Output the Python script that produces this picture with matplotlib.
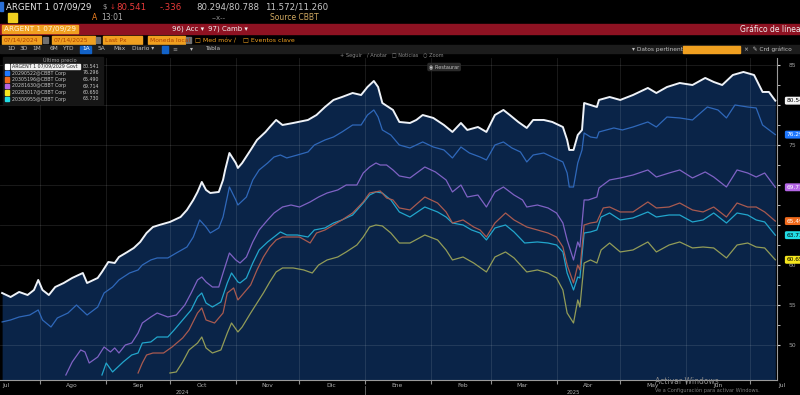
import matplotlib
matplotlib.use('Agg')
import matplotlib.pyplot as plt
from matplotlib.patches import Rectangle
import pandas as pd

W, H = 800, 395
inicio = pd.Timestamp('2024-07-13')

# ARGENT 1 07/09/29 Govt
dias_argent = [1, 5, 9, 13, 16, 18, 20, 23, 26, 30, 34, 39, 41, 46, 48, 51, 54, 56, 60, 63, 66, 69, 72, 75,
               80, 85, 88, 91, 93, 95, 97, 99, 103, 105, 106, 108, 111, 112, 114, 118, 121, 125, 127, 130,
               133, 138, 145, 149, 153, 157, 161, 166, 170, 173, 176, 178, 180, 185, 188, 193, 196, 199,
               204, 209, 213, 217, 220, 225, 229, 233, 237, 240, 244, 248, 251, 256, 260, 265, 267, 268,
               270, 272, 274, 275, 278, 281, 282, 287, 292, 298, 305, 309, 314, 320, 326, 332, 336, 340,
               345, 350, 355, 359, 362, 365]
precio_argent = [56.5, 56.0, 56.63, 56.25, 56.88, 58.13, 56.88, 56.25, 57.25, 57.75, 58.38, 59.0, 57.75, 58.38,
                 59.13, 60.38, 60.25, 61.0, 61.63, 62.13, 62.88, 64.0, 64.75, 65.0, 65.38, 66.0, 66.88, 68.13,
                 69.13, 70.38, 69.38, 69.0, 69.13, 70.63, 71.88, 74.0, 72.75, 72.13, 72.75, 74.38, 75.63,
                 76.63, 77.25, 78.13, 77.5, 77.75, 78.13, 78.75, 79.75, 80.63, 81.0, 81.5, 81.25, 82.25, 83.0,
                 82.25, 80.25, 79.38, 77.88, 77.75, 78.13, 78.75, 78.38, 77.5, 76.63, 77.75, 76.88, 77.25,
                 76.63, 78.75, 79.38, 78.75, 77.88, 77.13, 78.13, 78.13, 77.88, 77.25, 75.63, 74.38, 74.38,
                 76.25, 76.88, 80.25, 80.0, 79.75, 80.63, 81.0, 80.63, 81.25, 82.13, 81.5, 82.25, 82.75, 82.5,
                 83.38, 82.88, 82.5, 83.75, 84.13, 83.75, 81.63, 81.63, 80.541]

# 20290522@CBBT Corp
dias_azul = [1, 5, 9, 14, 18, 20, 24, 27, 32, 36, 41, 46, 49, 53, 56, 61, 65, 67, 71, 74, 79, 83, 88, 91, 94,
             97, 99, 103, 105, 108, 111, 112, 116, 119, 122, 126, 129, 132, 135, 140, 145, 148, 153, 157, 161,
             166, 170, 173, 176, 178, 180, 184, 188, 193, 199, 204, 209, 213, 217, 221, 226, 229, 233, 237,
             241, 245, 248, 251, 256, 260, 265, 267, 268, 270, 272, 274, 275, 278, 281, 282, 289, 293, 298,
             305, 309, 314, 320, 326, 333, 338, 342, 346, 352, 356, 359, 365]
precio_azul = [52.88, 53.13, 53.5, 53.75, 54.38, 53.13, 52.25, 53.38, 54.0, 55.0, 53.75, 54.75, 56.5, 57.25,
               58.13, 59.0, 59.38, 60.0, 60.63, 60.88, 60.88, 61.5, 62.25, 63.5, 65.63, 64.75, 64.0, 64.63,
               66.0, 69.75, 68.13, 67.5, 68.5, 70.63, 71.88, 72.75, 73.5, 73.75, 73.38, 73.75, 74.13, 75.0,
               75.63, 76.0, 76.63, 77.5, 77.5, 78.75, 79.38, 78.5, 76.88, 76.25, 75.0, 74.63, 75.38, 74.75,
               74.38, 73.38, 74.75, 74.0, 73.5, 73.13, 75.0, 75.38, 74.63, 74.13, 72.88, 73.75, 74.0, 73.5,
               72.88, 71.5, 69.75, 69.75, 72.75, 74.38, 76.5, 76.0, 75.88, 76.63, 77.13, 76.88, 77.25, 77.88,
               77.25, 78.5, 78.38, 78.13, 79.75, 79.38, 78.38, 80.0, 79.75, 79.63, 77.5, 76.296]

# 20305196@CBBT Corp
dias_naranja = [65, 67, 69, 72, 77, 81, 86, 89, 93, 95, 97, 101, 105, 107, 110, 112, 114, 118, 121, 124, 127,
                130, 133, 137, 141, 146, 149, 153, 157, 161, 166, 171, 174, 179, 182, 185, 188, 193, 200, 206,
                210, 213, 218, 223, 226, 229, 233, 238, 242, 248, 253, 258, 262, 265, 267, 270, 272, 273, 275,
                278, 281, 284, 287, 292, 298, 305, 309, 315, 320, 326, 331, 336, 342, 347, 352, 356, 360, 365]
precio_naranja = [46.5, 47.75, 48.75, 49.0, 49.0, 49.75, 50.88, 51.88, 54.0, 54.63, 53.13, 52.75, 54.0, 56.5,
                  57.13, 55.63, 56.25, 57.5, 59.38, 61.0, 62.25, 63.13, 63.5, 63.5, 63.5, 62.75, 64.0, 64.38,
                  65.0, 65.63, 66.5, 67.88, 69.0, 69.25, 68.38, 68.13, 67.13, 66.88, 68.5, 67.75, 66.63, 65.25,
                  65.63, 64.75, 64.38, 63.5, 65.25, 66.5, 65.63, 64.75, 64.38, 64.0, 63.5, 62.25, 60.0, 57.75,
                  60.0, 59.38, 65.0, 65.25, 65.38, 67.13, 67.25, 66.63, 66.63, 67.88, 67.13, 67.25, 67.75,
                  66.88, 66.63, 67.25, 66.0, 67.75, 67.25, 67.25, 66.63, 65.49]

# 20281630@CBBT Corp
dias_violeta = [31, 34, 38, 40, 42, 46, 49, 52, 54, 56, 59, 62, 65, 67, 71, 74, 79, 83, 87, 90, 93, 95, 97,
                100, 103, 105, 108, 111, 113, 116, 119, 122, 126, 129, 133, 137, 141, 146, 150, 154, 159, 163,
                168, 171, 174, 177, 179, 182, 185, 188, 193, 200, 205, 210, 213, 217, 220, 225, 229, 233, 237,
                242, 246, 248, 253, 258, 262, 265, 267, 270, 272, 273, 275, 277, 281, 282, 287, 292, 298, 305,
                309, 315, 320, 326, 332, 336, 342, 347, 352, 356, 360, 365]
precio_violeta = [46.25, 47.88, 49.38, 49.13, 47.75, 48.5, 49.75, 49.13, 49.63, 49.0, 50.0, 50.25, 51.5, 52.75,
                  53.5, 54.0, 53.5, 53.75, 55.0, 56.5, 58.13, 58.5, 57.88, 57.25, 57.25, 59.0, 61.5, 60.63,
                  60.25, 61.0, 62.88, 64.38, 65.63, 66.5, 67.25, 67.5, 67.25, 67.88, 68.5, 69.0, 69.38, 70.0,
                  70.0, 71.5, 72.25, 72.75, 72.5, 72.5, 71.88, 71.13, 70.88, 72.25, 71.63, 70.63, 69.13, 70.0,
                  68.5, 68.75, 67.25, 69.13, 69.75, 68.75, 68.13, 67.25, 67.5, 67.13, 66.5, 65.25, 63.13,
                  60.63, 62.88, 62.25, 68.13, 68.13, 68.5, 69.63, 70.63, 70.88, 71.25, 71.88, 71.0, 71.5,
                  71.88, 70.88, 71.63, 71.0, 69.75, 71.88, 71.5, 71.0, 71.5, 69.714]

# 20283017@CBBT Corp
dias_amarillo = [80, 83, 86, 89, 93, 95, 97, 100, 104, 107, 109, 112, 114, 118, 121, 124, 127, 130, 133, 138,
                 143, 147, 150, 154, 159, 163, 168, 171, 174, 177, 180, 184, 188, 193, 200, 206, 210, 213, 218,
                 223, 229, 233, 238, 242, 248, 253, 258, 262, 265, 267, 270, 272, 273, 275, 278, 281, 283, 287,
                 292, 298, 305, 309, 315, 320, 326, 331, 336, 342, 347, 352, 356, 360, 365]
precio_amarillo = [46.5, 46.63, 47.88, 49.38, 50.25, 51.0, 49.63, 49.0, 49.38, 51.5, 52.75, 51.63, 52.25, 54.0,
                   55.25, 56.5, 57.88, 59.13, 59.63, 59.63, 59.38, 59.0, 60.0, 60.63, 61.0, 61.63, 62.5, 63.5,
                   64.75, 65.0, 64.88, 64.0, 62.75, 62.75, 63.75, 63.13, 61.88, 60.63, 61.0, 60.25, 59.13, 61.0,
                   61.63, 60.88, 59.13, 59.38, 59.0, 58.38, 56.88, 54.0, 52.75, 55.63, 54.75, 60.25, 60.63,
                   60.25, 61.88, 62.75, 61.63, 61.88, 62.88, 61.63, 62.5, 62.88, 62.13, 62.25, 62.13, 60.88,
                   62.5, 62.75, 62.25, 62.13, 60.65]

# 20300955@CBBT Corp
dias_cian = [48, 50, 53, 55, 58, 62, 65, 67, 71, 74, 79, 82, 86, 90, 93, 95, 97, 100, 104, 107, 109, 112, 113,
             116, 119, 122, 126, 129, 132, 135, 140, 145, 148, 153, 157, 161, 166, 171, 174, 177, 180, 184, 188,
             193, 200, 206, 210, 213, 218, 222, 226, 229, 233, 238, 242, 247, 253, 258, 262, 265, 267, 270, 272,
             273, 275, 278, 281, 283, 287, 292, 298, 305, 309, 315, 320, 326, 331, 336, 342, 347, 352, 356, 360,
             365]
precio_cian = [46.25, 47.75, 46.63, 47.13, 47.88, 48.75, 49.0, 50.25, 50.38, 51.0, 51.0, 51.88, 53.13, 54.38,
               56.0, 56.5, 55.25, 54.75, 55.38, 57.75, 59.0, 57.88, 57.75, 58.38, 60.25, 61.88, 62.88, 63.5,
               64.13, 63.75, 63.75, 63.5, 64.38, 64.63, 65.25, 65.63, 66.25, 67.75, 68.75, 69.13, 69.0, 68.13,
               66.63, 66.0, 67.25, 66.63, 66.0, 65.25, 65.0, 64.38, 64.0, 63.13, 64.63, 65.0, 64.13, 62.75,
               62.88, 62.75, 62.5, 61.63, 59.0, 56.88, 58.5, 58.38, 64.0, 64.13, 64.38, 66.0, 66.5, 65.63,
               65.88, 66.63, 66.0, 66.25, 66.25, 65.38, 65.63, 66.5, 65.25, 66.5, 66.25, 65.63, 65.38, 63.73]

nombres = ['ARGENT 1 07/09/2029 Govt', '20290522@CBBT Corp', '20305196@CBBT Corp',
           '20281630@CBBT Corp', '20283017@CBBT Corp', '20300955@CBBT Corp']
ultimos = ['80.541', '76.296', '65.490', '69.714', '60.650', '63.730']
colores_leyenda = ['#ffffff', '#1e78ff', '#f06a1c', '#b466e6', '#f5e61e', '#22dde6']
colores_linea = ['#eef2f8', '#2f68ba', '#a85a50', '#7f62c4', '#929c58', '#22a6cc']
meses = ['Jul', 'Ago', 'Sep', 'Oct', 'Nov', 'Dic', 'Ene', 'Feb', 'Mar', 'Abr', 'May', 'Jun', 'Jul']
anios = ['2024', '2025']
ticks_y = [50, 55, 60, 65, 70, 75, 80, 85]
# 65, 70 y 80 quedan tapados por las etiquetas de valor en la imagen
etiquetas_y = ['50', '55', '60', '', '', '75', '', '85']

series = [(dias_argent, precio_argent), (dias_azul, precio_azul), (dias_naranja, precio_naranja),
          (dias_violeta, precio_violeta), (dias_amarillo, precio_amarillo), (dias_cian, precio_cian)]

fig = plt.figure(figsize=(8, 3.95), dpi=100, facecolor='black')


def fx(x):
    return x / W


def fy(y):
    return 1 - y / H


def caja(x0, y0, x1, y1, color):
    fig.patches.append(Rectangle((fx(x0), fy(y1)), (x1 - x0) / W, (y1 - y0) / H,
                                 transform=fig.transFigure, color=color, zorder=0))


def texto(x, y, s, size=6.2, color='white', **kw):
    fig.text(fx(x), fy(y), s, fontsize=size, color=color, va='center', **kw)


# ---- cabecera tipo terminal ----
caja(0, 2, 3, 11, '#2a6fd6')
texto(6, 7, 'ARGENT 1 07/09/29', color='#e8e8e8')
texto(102, 7, '$', color='#a0a0a0', size=5)
texto(110, 7, '\u2193', color='#e03030', size=5)
texto(116, 7, '80.541', color='#e83a3a')
texto(160, 7, '-.336', color='#e83a3a')
texto(196, 7, '80.294/80.788', color='#c8c8c8')
texto(265, 7, '11.572/11.260', color='#c8c8c8')

caja(8, 13, 17, 22, '#f0d020')
texto(92, 18, 'A', color='#f08020', size=5.5)
texto(101, 18, '13:01', color='#b0b0b0', size=5.5)
texto(212, 18, '--x--', color='#909090', size=5)
texto(270, 18, 'Source CBBT', color='#d0a860', size=5.5)

caja(0, 24, 800, 34, '#8e1222')
caja(2, 25, 78, 33, '#f0a020')
texto(4, 29, 'ARGENT 1 07/09/29', color='#fff3dc', size=5.2)
texto(172, 29, '96) Acc \u25be', color='#f0f0f0', size=5)
texto(208, 29, '97) Camb \u25be', color='#f0f0f0', size=5)
texto(740, 29, 'Gr\u00e1fico de l\u00edneas', color='#f0f0f0', size=5.5)

for x0, x1, s in [(2, 41, '07/14/2024'), (52, 95, '07/14/2025'), (103, 142, 'Last Px'),
                  (148, 185, 'Moneda local')]:
    caja(x0, 36, x1, 44, '#f0a020')
    texto(x0 + 2, 40, s, color='#b04000', size=4.3)
caja(43, 37, 48, 43, '#707070')
caja(96, 37, 100, 43, '#707070')
caja(186, 37, 191, 43, '#707070')
texto(195, 40, '\u25a1 Med m\u00f3v \u2215', color='#f0a020', size=4.5)
texto(243, 40, '\u25a1 Eventos clave', color='#f0a020', size=4.5)

caja(0, 45, 800, 53, '#1c1c1c')
for x, s in [(7, '1D'), (20, '3D'), (32, '1M'), (50, '6M'), (62, 'YTD'), (98, '5A'), (113, 'M\u00e1x'),
             (132, 'Diario \u25be'), (190, '\u25be'), (205, 'Tabla')]:
    texto(x, 49, s, color='#c0c0c0', size=4.2)
caja(80, 45.5, 91, 52.5, '#1262c8')
texto(82, 49, '1A', color='white', size=4.2)
caja(162, 45.5, 168, 52.5, '#1262c8')
texto(172, 49, '\u2261', color='#909090', size=4.2)
texto(632, 49, '\u25be Datos pertinent', color='#c0c0c0', size=4.2)
caja(683, 45.5, 740, 52.5, '#f0a020')
texto(744, 49, '\u2a2f  \u270e Crd gr\u00e1fico', color='#c0c0c0', size=4.2)
texto(340, 56, '+ Seguir   / Anotar   \u25a1 Noticias   \u25cb Zoom', color='#8a8a8a', size=3.6)

# ---- grafico ----
ax = fig.add_axes([0, fy(380), 777 / W, 322 / H])
ax.set_facecolor('black')

fechas = [[inicio + pd.Timedelta(days=d) for d in dias] for dias, _ in series]
ymin, ymax = 45.625, 85.875

ax.fill_between(fechas[0], precio_argent, ymin, color='#0a2448', lw=0, zorder=1)
for i in range(len(series) - 1, -1, -1):
    ax.plot(fechas[i], series[i][1], color=colores_linea[i], lw=1.4 if i == 0 else 0.9, zorder=3 + (i == 0))

ax.set_xlim(inicio, inicio + pd.Timedelta(days=365.8))
ax.set_ylim(ymin, ymax)

inicios_mes = pd.date_range('2024-08-01', '2025-07-01', freq='MS')
ax.set_xticks(inicios_mes)
ax.set_xticklabels([])
ax.set_yticks(ticks_y)
ax.set_yticklabels(etiquetas_y)
ax.set_yticks([t + 2.5 for t in ticks_y[:-1]], minor=True)
ax.yaxis.tick_right()
ax.grid(True, which='major', color='white', alpha=0.12, lw=0.6)
ax.set_axisbelow('line')
ax.tick_params(axis='x', length=3, color='#909090', direction='out')
ax.tick_params(axis='y', which='both', length=2.5, color='#d0d0d0', direction='out',
               labelsize=4.3, labelcolor='#a0a0a0', pad=6)
for lado in ['top', 'left']:
    ax.spines[lado].set_visible(False)
ax.spines['right'].set_color('#9a9a9a')
ax.spines['right'].set_linewidth(0.8)
ax.spines['bottom'].set_color('#9a9a9a')
ax.spines['bottom'].set_linewidth(0.8)

tr = ax.get_xaxis_transform()
centros_mes = pd.date_range('2024-07-01', '2025-07-01', freq='MS') + pd.Timedelta(days=15)
for c, m in zip(centros_mes, meses):
    ax.text(c, -0.016, m, transform=tr, ha='center', va='center', fontsize=4.3,
            color='#b0b0b0', clip_on=False)
for c, a in zip([pd.Timestamp('2024-10-07'), pd.Timestamp('2025-04-09')], anios):
    ax.text(c, -0.038, a, transform=tr, ha='center', va='center', fontsize=3.8,
            color='#b0b0b0', clip_on=False)
ax.plot([pd.Timestamp('2025-01-01')] * 2, [-0.02, -0.05], transform=tr, color='#707070',
        lw=0.6, clip_on=False)

# etiquetas de ultimo valor sobre el eje
ytr = ax.get_yaxis_transform()
for i, (dias, vals) in enumerate(series):
    ax.text(1.012, vals[-1], ultimos[i], transform=ytr, fontsize=4.2, va='center', ha='left',
            color='black' if i in (0, 4, 5) else 'white', clip_on=False, zorder=10,
            bbox=dict(boxstyle='round,pad=0.25', fc=colores_leyenda[i] if i else '#f4f4f4', ec='none'))

# leyenda
caja(3, 57, 103, 104, '#161616')
texto(60, 60, '\u00daltimo precio', color='#a0a0a0', size=3.6, ha='center')
for i in range(len(nombres)):
    y = 66.5 + 6.5 * i
    caja(4.5, y - 2.3, 9, y + 2.3, colores_leyenda[i])
    if i == 0:
        caja(11, y - 2.8, 80, y + 2.8, '#f0f0f0')
    texto(12, y, nombres[i], color='#202020' if i == 0 else '#c8c8c8', size=3.4)
    texto(83, y, ultimos[i], color='#c8c8c8', size=3.4)

fig.text(fx(429), fy(67), '\u25c9 Restaurar', fontsize=3.6, color='#c0c0c0', va='center',
         bbox=dict(boxstyle='round,pad=0.35', fc='#2a2a2a', ec='none'))

texto(655, 382, 'Activar Windows', color='#8a8a8a', size=5.5)
texto(655, 390, 'Ve a Configuraci\u00f3n para activar Windows.', color='#7a7a7a', size=3.6)

fig.savefig('out.png', dpi=100, facecolor='black')
